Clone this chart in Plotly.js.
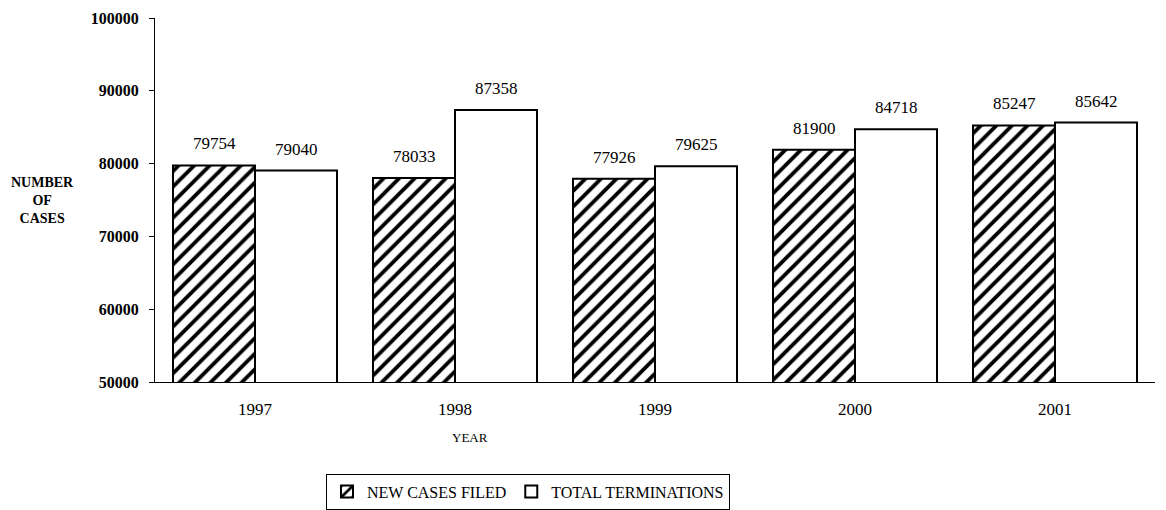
<!DOCTYPE html>
<html>
<head>
<meta charset="utf-8">
<script src="https://cdn.plot.ly/plotly-3.0.1.min.js"></script>
<style>html,body{margin:0;padding:0;background:#fff;}#chart{width:1166px;height:510px;}</style>
</head>
<body>
<div id="chart"></div>
<script>
var years = ["1997", "1998", "1999", "2000", "2001"];
var newCasesFiled = [79754, 78033, 77926, 81900, 85247];
var totalTerminations = [79040, 87358, 79625, 84718, 85642];
var seriesNames = ["NEW CASES FILED", "TOTAL TERMINATIONS"];
var yTicks = [50000, 60000, 70000, 80000, 90000, 100000];

var serif = "'Liberation Serif', 'Times New Roman', serif";

var traces = [
  {
    type: "bar", name: seriesNames[0], x: years, y: newCasesFiled,
    marker: {color: "#ffffff", line: {color: "#000", width: 2},
      pattern: {shape: "/", fgcolor: "#000", bgcolor: "#fff", size: 11, solidity: 0.35}},
    hoverinfo: "none"
  },
  {
    type: "bar", name: seriesNames[1], x: years, y: totalTerminations,
    marker: {color: "#ffffff", line: {color: "#000", width: 2}},
    hoverinfo: "none"
  }
];

var annotations = [];
var off = 0.205;
years.forEach(function (yr, i) {
  annotations.push({x: i - off, y: newCasesFiled[i], xref: "x", yref: "y", text: String(newCasesFiled[i]),
    showarrow: false, yanchor: "bottom", yshift: 10, font: {family: serif, size: 17, color: "#000"}});
  annotations.push({x: i + off, y: totalTerminations[i], xref: "x", yref: "y", text: String(totalTerminations[i]),
    showarrow: false, yanchor: "bottom", yshift: 10, font: {family: serif, size: 17, color: "#000"}});
});
annotations.push({xref: "paper", yref: "paper", x: -0.113, y: 0.5, xanchor: "center", yanchor: "middle",
  text: "<b>NUMBER<br>OF<br>CASES</b>", showarrow: false, align: "center",
  font: {family: serif, size: 14, color: "#000"}});
annotations.push({xref: "paper", yref: "paper", x: 0.315, y: -0.152, xanchor: "center", yanchor: "middle",
  text: "YEAR", showarrow: false, font: {family: serif, size: 13, color: "#000"}});

var layout = {
  width: 1166, height: 510,
  margin: {l: 155, r: 11, t: 18, b: 128},
  paper_bgcolor: "#fff", plot_bgcolor: "#fff",
  barmode: "group", bargap: 0.18, bargroupgap: 0,
  showlegend: true,
  legend: {orientation: "h", xref: "paper", x: 0.373, xanchor: "center", yref: "container", y: 0.036, yanchor: "middle",
    bordercolor: "#000", borderwidth: 1, font: {family: serif, size: 16, color: "#000"},
    itemwidth: 30, tracegroupgap: 0},
  xaxis: {type: "category", showgrid: false, zeroline: false, showline: true, linecolor: "#000", linewidth: 1,
    ticks: "", tickfont: {family: serif, size: 17, color: "#000"}, ticklabelstandoff: 12, fixedrange: true},
  yaxis: {range: [50000, 100000], tickvals: yTicks, ticktext: yTicks.map(function (v) { return "<b>" + v + "</b>"; }), showgrid: false, zeroline: false,
    showline: true, linecolor: "#000", linewidth: 1, ticks: "outside", ticklen: 5, tickcolor: "#000",
    tickfont: {family: serif, size: 16, color: "#000"}, ticklabelstandoff: 7, fixedrange: true},
  annotations: annotations,
  font: {family: serif, color: "#000"}
};

Plotly.newPlot("chart", traces, layout, {displayModeBar: false, staticPlot: true});
</script>
</body>
</html>
